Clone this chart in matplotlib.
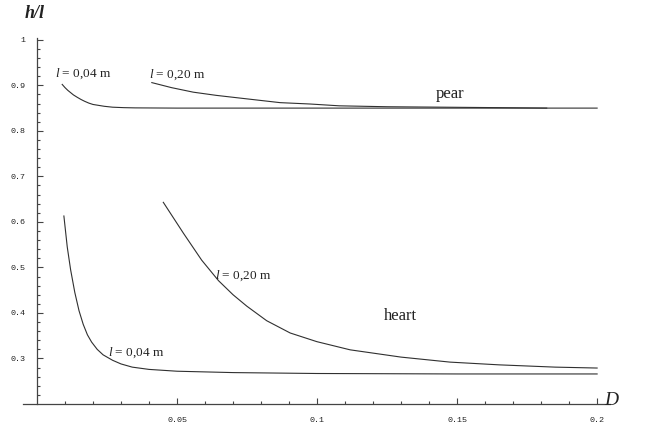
import matplotlib.pyplot as plt
import numpy as np

# pear, l = 0.04 m
pear04_D = [0.009, 0.010, 0.011, 0.012, 0.013, 0.0143, 0.0157, 0.017, 0.0185, 0.020, 0.022,
            0.024, 0.027, 0.031, 0.035, 0.05, 0.1, 0.2]
pear04_h = [0.902, 0.895, 0.889, 0.884, 0.879, 0.874, 0.869, 0.865, 0.861, 0.858, 0.856,
            0.854, 0.852, 0.851, 0.8505, 0.850, 0.850, 0.850]
# pear, l = 0.20 m
pear20_D = [0.041, 0.048, 0.0558, 0.064, 0.0725, 0.0868, 0.0975, 0.108, 0.125, 0.145, 0.165, 0.182]
pear20_h = [0.906, 0.895, 0.885, 0.878, 0.872, 0.862, 0.859, 0.855, 0.853, 0.852, 0.851, 0.850]
# heart, l = 0.04 m
heart04_D = [0.0096, 0.0108, 0.012, 0.0135, 0.015, 0.0165, 0.018, 0.0195, 0.0215, 0.0236, 0.027,
             0.030, 0.034, 0.040, 0.05, 0.07, 0.1, 0.15, 0.2]
heart04_h = [0.613, 0.545, 0.495, 0.445, 0.405, 0.375, 0.352, 0.336, 0.320, 0.308, 0.296,
             0.288, 0.281, 0.276, 0.272, 0.269, 0.267, 0.266, 0.266]
# heart, l = 0.20 m
heart20_D = [0.0451, 0.0523, 0.0588, 0.0648, 0.070, 0.0749, 0.0820, 0.0904, 0.0999, 0.1118, 0.13,
             0.1475, 0.165, 0.185, 0.2]
heart20_h = [0.643, 0.575, 0.516, 0.471, 0.440, 0.415, 0.383, 0.356, 0.337, 0.319, 0.303,
             0.292, 0.286, 0.281, 0.279]

plt.rcParams['mathtext.fontset'] = 'custom'
plt.rcParams['mathtext.it'] = 'Liberation Serif:italic'
plt.rcParams['mathtext.rm'] = 'Liberation Serif'

fig = plt.figure(figsize=(6.5, 4.23), dpi=100)
ax = fig.add_axes([23 / 650, 19 / 423, 587 / 650, 366 / 423])
ax.set_xlim(-0.005, 0.2046)
ax.set_ylim(0.2, 1.004)

lc = '#303030'
ax.plot(pear04_D, pear04_h, color=lc, lw=0.8)
ax.plot(pear20_D, pear20_h, color=lc, lw=0.8)
ax.plot(heart04_D, heart04_h, color=lc, lw=0.8)
ax.plot(heart20_D, heart20_h, color=lc, lw=0.8)

for s in ['top', 'right']:
    ax.spines[s].set_visible(False)
ax.spines['left'].set_position(('data', 0))
ax.spines['bottom'].set_position(('data', 0.2))
ax.spines['left'].set_color('#444444')
ax.spines['bottom'].set_color('#444444')
ax.spines['left'].set_linewidth(0.9)
ax.spines['bottom'].set_linewidth(0.9)

ax.set_xticks([0.05, 0.1, 0.15, 0.2])
ax.set_xticklabels(['0.05', '0.1', '0.15', '0.2'])
ax.set_xticks(np.arange(0.01, 0.2, 0.01), minor=True)
ax.set_yticks([0.3, 0.4, 0.5, 0.6, 0.7, 0.8, 0.9, 1.0])
ax.set_yticklabels(['0.3', '0.4', '0.5', '0.6', '0.7', '0.8', '0.9', '1'])
ax.set_yticks(np.arange(0.22, 1.0, 0.02), minor=True)
ax.tick_params(which='both', direction='in', color='#444444', width=0.8)
ax.tick_params(which='major', length=4)
ax.tick_params(which='minor', length=2.5)
ax.tick_params(axis='x', which='major', labelsize=6, pad=9)
ax.tick_params(axis='y', which='major', labelsize=6, pad=8)
for lab in ax.get_xticklabels() + ax.get_yticklabels():
    lab.set_family('Liberation Mono')
    lab.set_color('#222222')

tf = dict(family='Liberation Serif', fontsize=9.5, color='#222222')
ax.text(0.0065, 0.918, r'$l$ = 0,04 m', **tf)
ax.text(0.040, 0.916, r'$l$ = 0,20 m', **tf)
ax.text(0.1425, 0.873, 'pear', family='Liberation Serif', fontsize=12, color='#222222')
ax.text(0.0635, 0.476, r'$l$ = 0,20 m', **tf)
ax.text(0.124, 0.384, 'heart', family='Liberation Serif', fontsize=12, color='#222222')
ax.text(0.0255, 0.307, r'$l$ = 0,04 m', **tf)

fig.text(25 / 650, 1 - 13 / 423, 'h/l', family='Liberation Serif', style='italic',
         weight='bold', fontsize=13, va='center', color='#222222')
fig.text(604 / 650, 1 - 400 / 423, 'D', family='Liberation Serif', style='italic',
         fontsize=14, va='center', color='#222222')

fig.savefig('out.png', dpi=100)
